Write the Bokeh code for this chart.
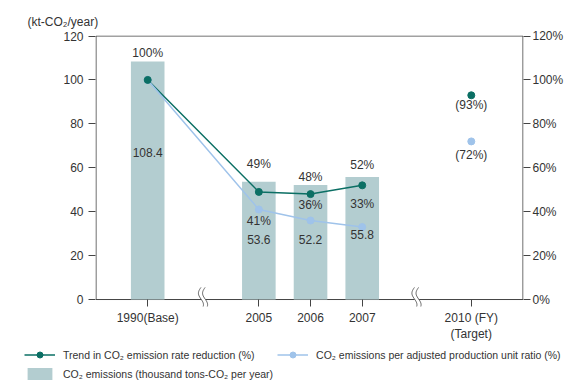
import numpy as np
from bokeh.plotting import figure
from bokeh.layouts import column
from bokeh.models import (Range1d, LinearAxis, FixedTicker, PrintfTickFormatter,
                          Label, Legend, LegendItem)
from bokeh.embed import file_html
from bokeh.resources import INLINE

# ---- data ----
categories = ["1990(Base)", "2005", "2006", "2007", "2010 (FY)\n(Target)"]
bar_categories = ["1990(Base)", "2005", "2006", "2007"]
co2_emissions = [108.4, 53.6, 52.2, 55.8]
trend_reduction_pct = [100, 49, 48, 52]
per_unit_ratio_pct = [100, 41, 36, 33]
target_trend_pct = 93
target_ratio_pct = 72
y_ticks = [0, 20, 40, 60, 80, 100, 120]

# ---- layout (x positions of categories on a broken axis) ----
xpos = {"1990(Base)": 0, "2005": 215, "2006": 315, "2007": 415, "2010 (FY)\n(Target)": 626}
breaks = [107, 520]
FONT = "Liberation Sans"
TXT = "#333333"
AX = "#444444"
BAR = "#b3cdd0"
GREEN = "#0b6f64"
BLUE = "#9fc3ea"
YMIN = -3.18

p = figure(width=566, height=345, output_backend="svg", toolbar_location=None,
           x_range=Range1d(-101, 727), y_range=Range1d(YMIN, 120.23),
           min_border_left=95, min_border_right=33, min_border_top=35, min_border_bottom=39)
p.frame_align = False
p.extra_y_ranges = {"pct": Range1d(YMIN, 120.23)}
p.xgrid.visible = False
p.ygrid.visible = False
p.outline_line_color = None
p.background_fill_color = "white"
p.border_fill_color = "white"

# frame lines (left, right, top, baseline)
p.segment(x0=[-100, 726, -100, -100], y0=[0, 0, 120, 0], x1=[-100, 726, 726, 726], y1=[120, 120, 120, 0],
          line_color=AX, line_width=1)

bx = [xpos[c] for c in bar_categories]
bars = p.vbar(x=bx, top=co2_emissions, width=65, bottom=0, color=BAR, line_color=None)

l1 = p.line(bx, trend_reduction_pct, color=GREEN, line_width=1.5, y_range_name="pct")
l2 = p.line(bx, per_unit_ratio_pct, color=BLUE, line_width=1.5, y_range_name="pct")
s2 = p.scatter(bx, per_unit_ratio_pct, size=7, color=BLUE, y_range_name="pct")
s1 = p.scatter(bx, trend_reduction_pct, size=7, color=GREEN, y_range_name="pct")
tx = xpos[categories[-1]]
p.scatter([tx], [target_trend_pct], size=7, color=GREEN, y_range_name="pct")
p.scatter([tx], [target_ratio_pct], size=7, color=BLUE, y_range_name="pct")

# axis break marks
t = np.linspace(0, 1, 25)
for bxp in breaks:
    yy = 5.5 - t * 10.5
    amp = 4.9
    left = bxp - 4 - amp * np.sin(2 * np.pi * t)
    right = bxp + 4 - amp * np.sin(2 * np.pi * t)
    p.patch(list(left) + list(right[::-1]), list(yy) + list(yy[::-1]), fill_color="white", line_color=None)
    p.line(left, yy, line_color="#666666", line_width=1)
    p.line(right, yy, line_color="#666666", line_width=1)

# axes
xa = p.xaxis[0]
xa.ticker = FixedTicker(ticks=[xpos[c] for c in categories])
xa.major_label_overrides = {xpos[c]: (c if "\n" in c else c + "\n\u00a0") for c in categories}
xa.axis_line_color = None
xa.minor_tick_line_color = None
xa.minor_tick_out = 0
xa.minor_tick_in = 0
xa.major_tick_in = 7
xa.major_tick_out = 0
xa.major_label_standoff = 4
xa.major_tick_line_color = AX
xa.major_label_text_font = FONT
xa.major_label_text_font_size = "12px"
xa.major_label_text_color = TXT

def style_y(a, standoff):
    a.ticker = FixedTicker(ticks=y_ticks)
    a.axis_line_color = None
    a.minor_tick_line_color = None
    a.major_tick_out = 7
    a.major_tick_in = 0
    a.major_label_standoff = standoff
    a.major_tick_line_color = AX
    a.major_label_text_font = FONT
    a.major_label_text_font_size = "12px"
    a.major_label_text_color = TXT

style_y(p.yaxis[0], 5)
ra = LinearAxis(y_range_name="pct", formatter=PrintfTickFormatter(format="%d%%"))
style_y(ra, 2)
p.add_layout(ra, "right")

# axis unit label as title
p.title.text = "(kt-CO\u2082/year)"
p.title.align = "left"
p.title.offset = -68
p.title.text_font = FONT
p.title.text_font_size = "12px"
p.title.text_font_style = "normal"
p.title.text_color = TXT
p.title.standoff = 13

# value labels
def lab(x, y, t, yoff=0):
    p.add_layout(Label(x=x, y=y, y_offset=yoff, text=t, text_align="center", text_baseline="middle",
                       text_font=FONT, text_font_size="12px", text_color=TXT))

lab(bx[0], co2_emissions[0], f"{trend_reduction_pct[0]}%", 8)
lab(bx[0], 66.8, f"{co2_emissions[0]}")
trend_lab_y = [61.5, 55.6, 61.2]
ratio_lab_y = [35.8, 43.2, 43.6]
val_lab_y = [27.2, 27.2, 29.5]
for i in range(1, 4):
    lab(bx[i], trend_lab_y[i - 1], f"{trend_reduction_pct[i]}%")
    lab(bx[i], ratio_lab_y[i - 1], f"{per_unit_ratio_pct[i]}%")
    lab(bx[i], val_lab_y[i - 1], f"{co2_emissions[i]}")
lab(tx, 88.6, f"({target_trend_pct}%)")
lab(tx, 65.8, f"({target_ratio_pct}%)")

# legend strip (separate figure so the legend is not clipped by the chart frame);
# its proxy renderers use the same data but lie outside this strip's visible ranges
q = figure(width=566, height=36, output_backend="svg", toolbar_location=None,
           x_range=Range1d(-3000, -2999), y_range=Range1d(-3000, -2999),
           x_axis_location=None, y_axis_location=None,
           min_border_left=0, min_border_right=0, min_border_top=0, min_border_bottom=0)
q.frame_align = False
q.outline_line_color = None
q.xgrid.visible = False
q.ygrid.visible = False
ql1 = q.line(bx, trend_reduction_pct, color=GREEN, line_width=1.5)
qs1 = q.scatter(bx, trend_reduction_pct, size=7, color=GREEN)
ql2 = q.line(bx, per_unit_ratio_pct, color=BLUE, line_width=1.5)
qs2 = q.scatter(bx, per_unit_ratio_pct, size=7, color=BLUE)
qb = q.vbar(x=bx, top=co2_emissions, width=65, color=BAR, line_color=None)
leg = Legend(items=[LegendItem(label="Trend in CO\u2082 emission rate reduction (%)", renderers=[ql1, qs1]),
                    LegendItem(label="CO\u2082 emissions per adjusted production unit ratio (%)", renderers=[ql2, qs2]),
                    LegendItem(label="CO\u2082 emissions (thousand tons-CO\u2082 per year)", renderers=[qb])],
             orientation="horizontal", ncols=2, location=(24, 0), padding=0, margin=0, spacing=4,
             glyph_width=31, glyph_height=15, label_height=15, label_standoff=8,
             label_text_font=FONT, label_text_font_size="10.5px", label_text_color=TXT,
             border_line_color=None, background_fill_alpha=0)
q.add_layout(leg, "center")

open("out.html", "w").write(file_html(column(p, q, spacing=0), INLINE))
